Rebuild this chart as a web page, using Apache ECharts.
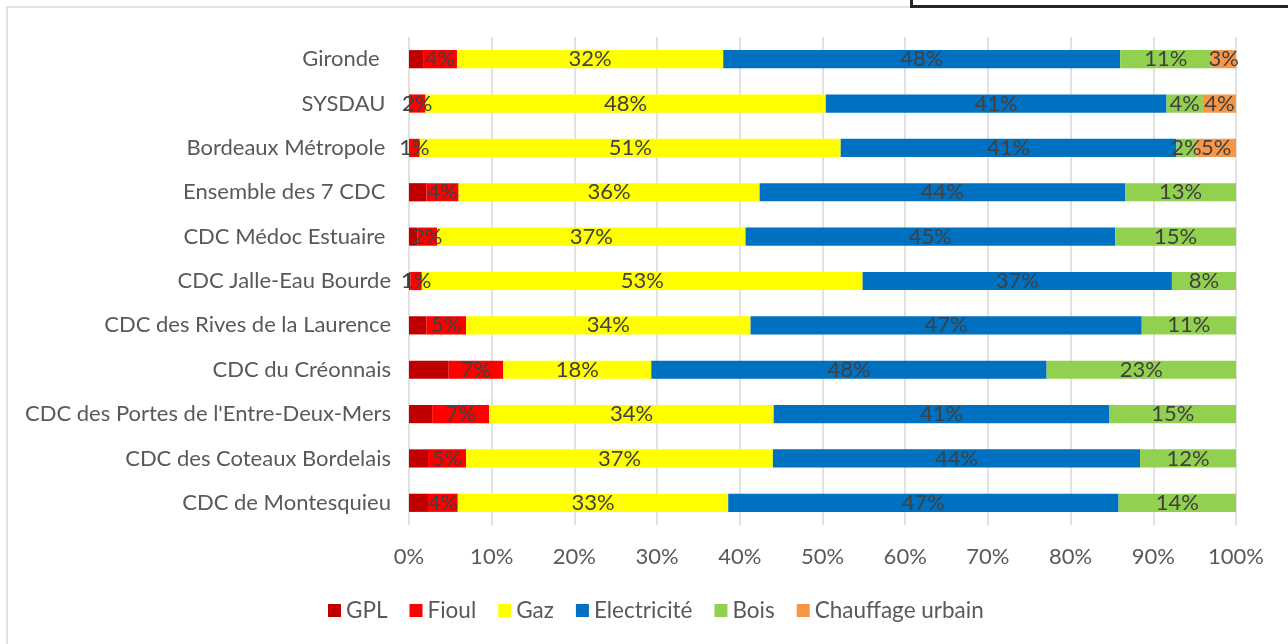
<!DOCTYPE html>
<html>
<head>
<meta charset="utf-8">
<script src="https://cdn.jsdelivr.net/npm/echarts@6/dist/echarts.min.js"></script>
<style>
  html, body { margin: 0; padding: 0; background: #fff; }
  #chart { width: 1288px; height: 644px; }
</style>
</head>
<body>
<div id="chart"></div>
<script>
// territoires, du haut vers le bas
const territoires = [
  'Gironde  ', 'SYSDAU ', 'Bordeaux Métropole ', 'Ensemble des 7 CDC ',
  'CDC Médoc Estuaire ', 'CDC Jalle-Eau Bourde', 'CDC des Rives de la Laurence',
  'CDC du Créonnais', "CDC des Portes de l'Entre-Deux-Mers",
  'CDC des Coteaux Bordelais', 'CDC de Montesquieu'
]

// parts (%) par énergie de chauffage
const gpl        = [1.7, 0,    0,    2.1,  1.0,  0.2,  2.1,  4.8,  2.8,  2.3,  2.3]
const fioul      = [4.1, 2.0,  1.3,  3.9,  2.4,  1.35, 4.8,  6.6,  6.9,  4.6,  3.6]
const gaz        = [32.2, 48.4, 50.9, 36.4, 37.3, 53.3, 34.4, 17.9, 34.4, 37.1, 32.7]
const electricite = [48.0, 41.2, 40.6, 44.2, 44.7, 37.4, 47.3, 47.8, 40.6, 44.4, 47.2]
const bois       = [11.0, 4.4,  2.4,  13.4, 14.6, 7.75, 11.4, 22.9, 15.3, 11.6, 14.2]
const chauffageUrbain = [3.0, 4.0, 4.8, 0, 0, 0, 0, 0, 0, 0, 0]

const xTicks = [0, 10, 20, 30, 40, 50, 60, 70, 80, 90, 100]

const FONT = 'Lato'
const SIZE = 22

function serie(name, data, color, showLabel) {
  return {
    name,
    type: 'bar',
    stack: 'total',
    data,
    itemStyle: { color },
    barCategoryGap: '59%',
    label: {
      show: showLabel,
      position: 'inside',
      color: '#404040',
      fontFamily: FONT,
      fontSize: SIZE,
      formatter: p => (p.value >= 0.5 ? Math.round(p.value) + '%' : '')
    }
  }
}

const chart = echarts.init(document.getElementById('chart'))

chart.setOption({
  animation: false,
  textStyle: { fontFamily: FONT },
  graphic: [
    {
      type: 'rect',
      shape: { x: 7, y: 7, width: 1400, height: 1000 },
      style: { fill: 'none', stroke: '#d9d9d9', lineWidth: 1.5 },
      z: -10
    },
    {
      type: 'rect',
      shape: { x: 911.5, y: -20, width: 500, height: 26.5 },
      style: { fill: '#fff', stroke: '#262626', lineWidth: 3 },
      z: 10
    }
  ],
  grid: { left: 409, right: 52, top: 37, bottom: 119 },
  legend: {
    left: 323,
    top: 594,
    icon: 'rect',
    itemWidth: 13,
    itemHeight: 13,
    itemGap: 22,
    textStyle: { color: '#595959', fontFamily: FONT, fontSize: 22.5 }
  },
  xAxis: {
    type: 'value',
    min: 0,
    max: 100,
    interval: 10,
    axisLine: { show: false },
    axisTick: { show: false },
    splitLine: { lineStyle: { color: '#d9d9d9', width: 1.5 } },
    axisLabel: {
      color: '#595959',
      fontFamily: FONT,
      fontSize: SIZE,
      margin: 21,
      customValues: xTicks,
      formatter: v => v + '%'
    }
  },
  yAxis: {
    type: 'category',
    inverse: true,
    data: territoires,
    axisLine: { show: false },
    axisTick: { show: false },
    axisLabel: { color: '#595959', fontFamily: FONT, fontSize: SIZE, margin: 18 }
  },
  series: [
    serie('GPL', gpl, '#c00000', false),
    serie('Fioul', fioul, '#ff0000', true),
    serie('Gaz', gaz, '#ffff00', true),
    serie('Electricité', electricite, '#0070c0', true),
    serie('Bois', bois, '#92d050', true),
    serie('Chauffage urbain', chauffageUrbain, '#f79646', true)
  ]
})
</script>
</body>
</html>
